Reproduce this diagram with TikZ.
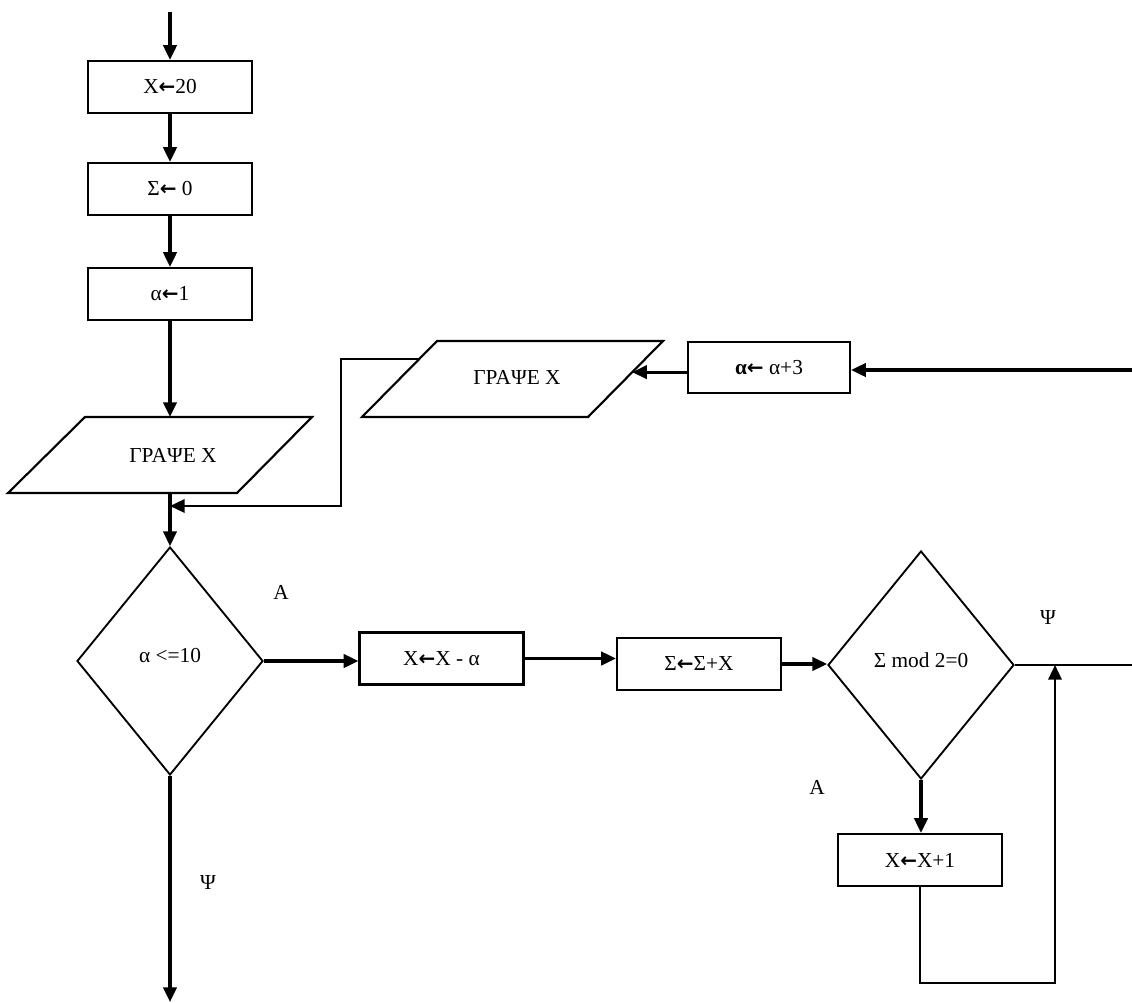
\documentclass[tikz,border=0pt]{standalone}
\usepackage{fontspec}
\setmainfont{Liberation Serif}
\newfontfamily\arrfont{DejaVu Sans Bold}
\newcommand{\la}{{\arrfont\fontsize{15}{17}\selectfont ←}}
\usetikzlibrary{arrows.meta,shapes.geometric,calc}
\begin{document}
\begin{tikzpicture}[x=0.75pt,y=-0.75pt,
  font=\fontsize{16}{19}\selectfont,
  box/.style={draw,line width=1.7pt,minimum width=123pt,minimum height=39pt,inner sep=0pt},
  dec/.style={draw,diamond,line width=1.4pt,minimum width=139.5pt,minimum height=171pt,inner sep=0pt},
  io/.style={line width=1.6pt,line join=miter},
  conn/.style={line width=2.3pt,-{Triangle[length=11pt,width=10pt]}},
  thinline/.style={line width=1.6pt},
  lbl/.style={inner sep=0pt}]
\useasboundingbox (0,0) rectangle (1132,1003);

\node[box] (b1) at (170,87) {X\la{}20};
\node[box] (b2) at (170,189) {Σ\la{} 0};
\node[box] (b3) at (170,294) {α\la{}1};

\coordinate (p1tl) at (85,417);
\coordinate (p1tr) at (312,417);
\coordinate (p1br) at (237,493);
\coordinate (p1bl) at (8,493);
\draw[io] (p1tl) -- (p1tr) -- (p1br) -- (p1bl) -- cycle;
\node (p1) at (173,455) {ΓΡΑΨΕ Χ};

\coordinate (p2tl) at (437,341);
\coordinate (p2tr) at (663,341);
\coordinate (p2br) at (588,417);
\coordinate (p2bl) at (362,417);
\draw[io] (p2tl) -- (p2tr) -- (p2br) -- (p2bl) -- cycle;
\node (p2) at (517,377) {ΓΡΑΨΕ Χ};

\node[box,minimum width=121.5pt,minimum height=38pt] (a3) at (769,367.5) {\textbf{α}\la{} α+3};
\node[dec] (d1) at (170,661) {\raisebox{8pt}{α <=10}};
\node[box] (xa) at (441.5,658.5) {X\la{}X - α};
\node[box] (s) at (699,664) {Σ\la{}Σ+X};
\node[dec] (d2) at (921,665) {\raisebox{8pt}{Σ mod 2=0}};
\node[box] (b4) at (920,860) {X\la{}X+1};

\node[lbl] (la1) at (281,592) {Α};
\node[lbl] (lp1) at (208,883) {Ψ};
\node[lbl] (lp2) at (1048,618) {Ψ};
\node[lbl] (la2) at (817,787) {Α};

\coordinate (top) at (170,12);
\coordinate (bot) at (170,1002);
\coordinate (rin) at (1132,370);
\coordinate (rout) at (1132,665);
\coordinate (fb) at (341,506);
\coordinate (lp) at (1055,983);
\coordinate (pl) at ($(p2tl)!0.24!(p2bl)$);
\coordinate (pr) at ($(p2tr)!0.41!(p2br)$);

\draw[conn] (top) -- (b1.north);
\draw[conn] (b1) -- (b2);
\draw[conn] (b2) -- (b3);
\draw[conn] (b3.south) -- (b3.south |- p1tl);
\draw[conn] (b3.south |- p1bl) -- (d1.north);
\draw[conn,line width=1.8pt] (pl) -| (fb) -- (fb -| d1.north);
\draw[conn] (pr -| a3.west) -- (pr);
\draw[conn] (rin) -- (rin -| a3.east);
\draw[conn] (d1.east) -- (d1.east -| xa.west);
\draw[conn] (xa.east) -- (xa.east -| s.west);
\draw[conn] (s.east) -- (s.east -| d2.west);
\draw[thinline] (d2.east) -- (rout);
\draw[conn] (d2.south) -- (d2.south |- b4.north);
\draw[conn,line width=1.8pt] (b4.south) |- (lp) -- (lp |- rout);
\draw[conn] (d1.south) -- (bot);
\end{tikzpicture}
\end{document}
